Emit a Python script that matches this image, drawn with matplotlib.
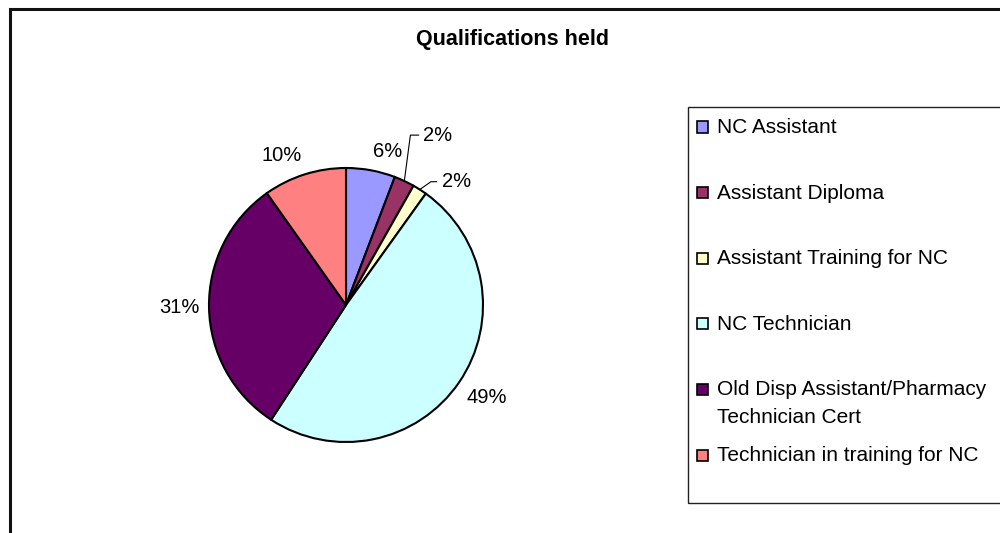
import numpy as np
import matplotlib
matplotlib.use("Agg")
import matplotlib.pyplot as plt
from matplotlib.patches import Rectangle

plt.rcParams['font.family'] = ['Liberation Sans', 'DejaVu Sans']

categories = ['NC Assistant', 'Assistant Diploma', 'Assistant Training for NC',
              'NC Technician', 'Old Disp Assistant/Pharmacy\nTechnician Cert',
              'Technician in training for NC']
shares = [5.8, 2.4, 1.7, 49.3, 31.0, 9.8]
pct_labels = ['6%', '2%', '2%', '49%', '31%', '10%']
colors = ['#9999FF', '#993366', '#FFFFCC', '#CCFFFF', '#660066', '#FF8080']

W, H = 1000, 533
fig = plt.figure(figsize=(W / 100, H / 100), dpi=100)

# outer chart border (runs off the right and bottom edges)
fig.patches.append(Rectangle((9.5 / W, -0.05), 1.1, 1 - 9.5 / H + 0.05,
                             transform=fig.transFigure, fill=False,
                             lw=2.2, ec='#111111'))

fig.text(512 / W, 1 - 40 / H, 'Qualifications held', ha='center', va='center',
         fontsize=15.5, fontweight='bold')

# pie
cx, cy, r = 346, 305, 137
ax = fig.add_axes([(cx - r) / W, (H - cy - r) / H, 2 * r / W, 2 * r / H])
wedges, _ = ax.pie(shares, colors=colors, startangle=90, counterclock=False,
                   wedgeprops=dict(edgecolor='black', linewidth=1.5))
ax.set_xlim(-1, 1)
ax.set_ylim(-1, 1)
ax.set_aspect('equal')
ax.axis('off')

# leader-line labels for the two thin slices (index -> elbow, end, text anchor)
leaders = {1: ((0.47, 1.24), (0.53, 1.24), (0.56, 1.235)),
           2: ((0.62, 0.90), (0.66, 0.90), (0.70, 0.905))}

cum = np.cumsum([0] + shares)
for i, w in enumerate(wedges):
    mid = (cum[i] + cum[i + 1]) / 2 / 100 * 2 * np.pi
    dx, dy = np.sin(mid), np.cos(mid)
    if i in leaders:
        elbow, end, txt = leaders[i]
        ax.plot([dx, elbow[0], end[0]], [dy, elbow[1], end[1]], color='black',
                lw=0.8, clip_on=False)
        ax.text(txt[0], txt[1], pct_labels[i], ha='left', va='center',
                fontsize=14.5)
        continue
    x, y = 1.07 * dx, 1.07 * dy
    ha = 'left' if x > 0.1 else ('right' if x < -0.1 else 'center')
    va = 'bottom' if y > 0.1 else ('top' if y < -0.1 else 'center')
    ax.text(x, y, pct_labels[i], ha=ha, va=va, fontsize=14.5)

# legend box (runs off the right edge)
fig.patches.append(Rectangle((688 / W, 1 - 503 / H), 0.4, (503 - 107) / H,
                             transform=fig.transFigure, fill=False,
                             lw=1.0, ec='#222222'))
for i, (lab, col) in enumerate(zip(categories, colors)):
    ymid = 127 + i * 65.6
    fig.patches.append(Rectangle((697 / W, 1 - (ymid + 5.5) / H), 11 / W, 11 / H,
                                 transform=fig.transFigure, fc=col,
                                 ec='black', lw=1.2))
    fig.text(717 / W, 1 - (ymid - 9) / H, lab, ha='left', va='top',
             fontsize=15, linespacing=1.6)

fig.savefig('out.png', dpi=100)
